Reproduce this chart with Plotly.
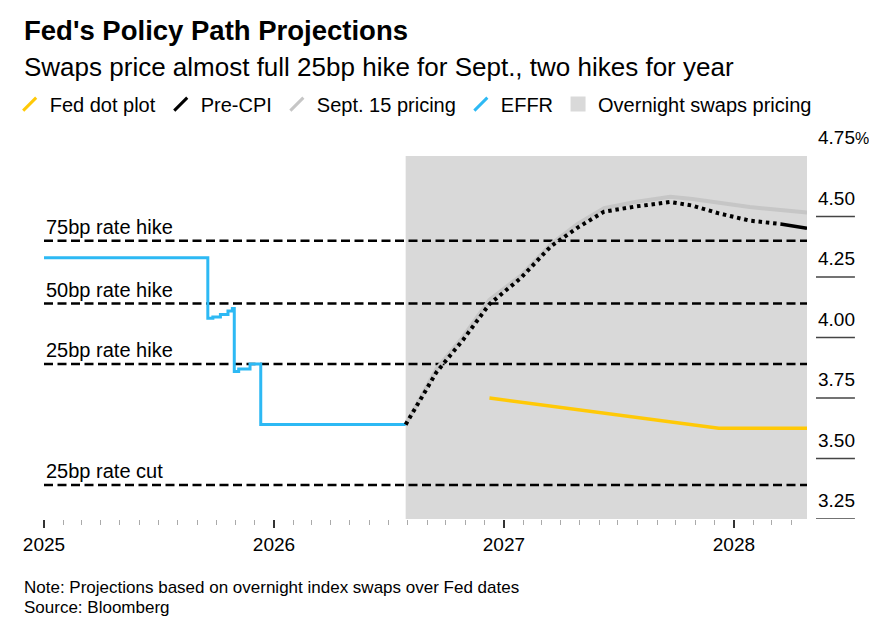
import plotly.graph_objects as go

# ---------------- data ----------------
effr_dates = ['2025-01-01', '2025-09-18', '2025-09-26', '2025-10-08', '2025-10-20', '2025-10-27',
              '2025-10-30', '2025-11-06', '2025-11-24', '2025-12-11', '2026-07-29']
effr_vals = [4.33, 4.08, 4.085, 4.095, 4.11, 4.12, 3.86, 3.87, 3.89, 3.64, 3.64]

fomc_dates = ['2026-07-29', '2026-09-16', '2026-10-28', '2026-12-09', '2027-01-27', '2027-03-17',
              '2027-04-28', '2027-06-09', '2027-07-28', '2027-09-22', '2027-10-27', '2027-12-08',
              '2028-01-26', '2028-03-15', '2028-04-26']
pre_cpi = [3.64, 3.857, 3.99, 4.138, 4.244, 4.378, 4.454, 4.52, 4.541, 4.56, 4.545, 4.513,
           4.483, 4.469, 4.451]
sept15 = [3.64, 3.87, 4.002, 4.155, 4.254, 4.386, 4.469, 4.535, 4.56, 4.582, 4.572, 4.557,
          4.539, 4.527, 4.516]

dot_dates = ['2026-12-09', '2027-12-08', '2028-04-26']
dot_vals = [3.75, 3.625, 3.625]

swaps_start = '2026-07-29'
x_range = ['2025-01-01', '2028-04-26']

ref_levels = [4.40, 4.14, 3.89, 3.39]
ref_labels = ['75bp rate hike', '50bp rate hike', '25bp rate hike', '25bp rate cut']

y_ticks = [3.25, 3.50, 3.75, 4.00, 4.25, 4.50, 4.75]
y_ticktext = ['3.25', '3.50', '3.75', '4.00', '4.25', '4.50', '4.75<span style="font-size:16px">%</span>']
x_ticks = ['2025-01-01', '2026-01-01', '2027-01-01', '2028-01-01']
x_ticktext = ['2025', '2026', '2027', '2028']

legend_names = ['Fed dot plot', 'Pre-CPI', 'Sept. 15 pricing', 'EFFR', 'Overnight swaps pricing']

# ---------------- style ----------------
FONT = 'Liberation Sans'
C_YEL = '#FFC907'
C_BLK = '#000000'
C_GRY = '#c6c6c6'
C_BLU = '#2DB9F4'
C_SHADE = '#d9d9d9'

fig = go.Figure()

# Sept 15 pricing
fig.add_trace(go.Scatter(x=fomc_dates, y=sept15, mode='lines', showlegend=False,
                         line=dict(color=C_GRY, width=4), hoverinfo='skip'))
# EFFR
fig.add_trace(go.Scatter(x=effr_dates, y=effr_vals, mode='lines', line_shape='hv', showlegend=False,
                         line=dict(color=C_BLU, width=3), hoverinfo='skip', cliponaxis=False))
# Fed dot plot
fig.add_trace(go.Scatter(x=dot_dates, y=dot_vals, mode='lines', showlegend=False,
                         line=dict(color=C_YEL, width=3.5), hoverinfo='skip'))
# Pre-CPI dotted part and solid tail
fig.add_trace(go.Scatter(x=fomc_dates[:-1], y=pre_cpi[:-1], mode='lines', showlegend=False,
                         line=dict(color=C_BLK, width=4, dash='3.5px,3.8px'), hoverinfo='skip'))
fig.add_trace(go.Scatter(x=fomc_dates[-2:], y=pre_cpi[-2:], mode='lines', showlegend=False,
                         line=dict(color=C_BLK, width=3.5), hoverinfo='skip'))

# legend-only entries
leg_colors = [C_YEL, C_BLK, C_GRY, C_BLU]
for name, col in zip(legend_names[:4], leg_colors):
    fig.add_trace(go.Scatter(x=[None], y=[None], mode='markers', name=name,
                             marker=dict(symbol='line-ne', size=13, color=col,
                                         line=dict(color=col, width=3))))
fig.add_trace(go.Scatter(x=[None], y=[None], mode='markers', name=legend_names[4],
                         marker=dict(symbol='square', size=15, color=C_SHADE,
                                     line=dict(width=0))))

shapes = []
shapes.append(dict(type='rect', xref='x', yref='paper', x0=swaps_start, x1=x_range[1],
                   y0=0, y1=1, fillcolor=C_SHADE, line=dict(width=0), layer='below'))
for lv in ref_levels:
    shapes.append(dict(type='line', xref='paper', yref='y', x0=0, x1=1, y0=lv, y1=lv,
                       line=dict(color='#000', width=2.5, dash='9px,4.5px'), layer='below'))
for i, tv in enumerate(y_ticks):
    top = (i == len(y_ticks) - 1)
    shapes.append(dict(type='line', xref='paper', yref='y', x0=1.0118, x1=1.0628,
                       ysizemode='pixel', yanchor=tv, y0=10 if top else 0, y1=10 if top else 0,
                       line=dict(color='#444', width=1.5)))

annotations = []
for lv, lab in zip(ref_levels, ref_labels):
    annotations.append(dict(xref='paper', yref='y', x=0, y=lv, text=lab, showarrow=False,
                            xanchor='left', yanchor='bottom', yshift=1,
                            font=dict(family=FONT, size=20, color='#000')))
annotations += [
    dict(xref='paper', yref='paper', x=-0.0288, y=1.347, text="<b>Fed's Policy Path Projections</b>",
         showarrow=False, xanchor='left', yanchor='middle', font=dict(family=FONT, size=27.5, color='#000')),
    dict(xref='paper', yref='paper', x=-0.0288, y=1.245,
         text='Swaps price almost full 25bp hike for Sept., two hikes for year',
         showarrow=False, xanchor='left', yanchor='middle', font=dict(family=FONT, size=26, color='#000')),
    dict(xref='paper', yref='paper', x=-0.0288, y=-0.19,
         text='Note: Projections based on overnight index swaps over Fed dates',
         showarrow=False, xanchor='left', yanchor='middle', font=dict(family=FONT, size=17, color='#000')),
    dict(xref='paper', yref='paper', x=-0.0288, y=-0.243, text='Source: Bloomberg',
         showarrow=False, xanchor='left', yanchor='middle', font=dict(family=FONT, size=17, color='#000')),
]

fig.update_layout(
    width=869, height=640,
    margin=dict(l=44, r=62, t=156, b=121, autoexpand=False),
    paper_bgcolor='white', plot_bgcolor='white',
    font=dict(family=FONT, size=19, color='#000'),
    shapes=shapes, annotations=annotations,
    showlegend=True,
    legend=dict(orientation='h', x=-0.045, xanchor='left', y=1.143, yanchor='middle',
                font=dict(family=FONT, size=20, color='#000'), bgcolor='rgba(0,0,0,0)',
                itemclick=False, tracegroupgap=0),
    xaxis=dict(type='date', range=x_range, tickvals=x_ticks, ticktext=x_ticktext,
               ticks='outside', ticklen=8, tickwidth=1.5, tickcolor='#333',
               showgrid=False, zeroline=False, showline=False,
               tickfont=dict(family=FONT, size=19, color='#000'),
               minor=dict(dtick='M1', ticks='outside', ticklen=5, tickwidth=1, tickcolor='#aaaaaa',
                          showgrid=False)),
    yaxis=dict(range=[3.25, 4.75], side='right', tickvals=y_ticks, ticktext=y_ticktext,
               ticks='', showgrid=False, zeroline=False, showline=False,
               ticklabelposition='outside top', ticklabelstandoff=10, ticklabelshift=-5,
               tickfont=dict(family=FONT, size=19, color='#000')),
)

# remove the browser's default 8px page margin so the 869x640 figure fills the window exactly
fig.write_html('out.html', config={'displayModeBar': False},
               post_script="document.body.style.margin='0';document.body.style.overflow='hidden';")
